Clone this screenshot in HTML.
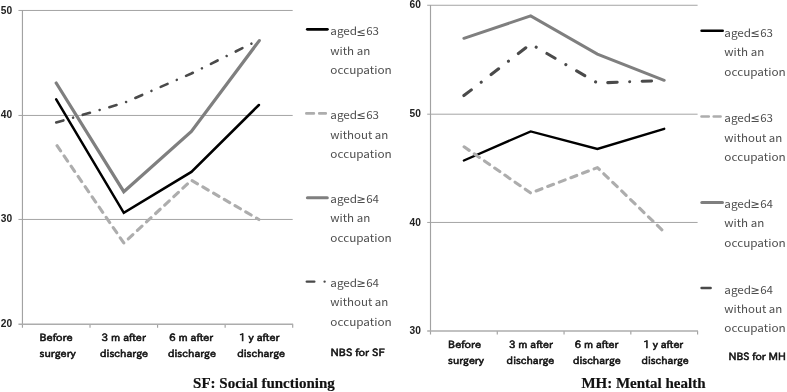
<!DOCTYPE html>
<html lang="en">
<head>
<meta charset="utf-8">
<title>SF and MH charts</title>
<style>
html,body{margin:0;padding:0;background:#fff;}
body{width:787px;height:392px;overflow:hidden;position:relative;}
svg{position:absolute;left:0;top:0;display:block;filter:grayscale(1);}
.ax{font-family:"IPAPGothic","Noto Sans CJK JP","Liberation Sans",sans-serif;font-weight:400;font-size:10px;fill:#141414;stroke:#141414;stroke-width:0.58px;}
.num{font-family:"Liberation Sans",sans-serif;font-weight:700;font-size:10.2px;fill:#222;}
.lg{font-family:"Noto Sans CJK JP","Liberation Sans",sans-serif;font-weight:400;font-size:10.8px;fill:#4d4d4d;}
.sym{font-family:"DejaVu Sans",sans-serif;font-weight:400;font-size:11.3px;}
.ttl{font-family:"Liberation Serif",serif;font-weight:700;font-size:15px;fill:#111;stroke:#111;stroke-width:0.2px;}
.grid{stroke:#a4a4a4;stroke-width:1;fill:none;}
.axis{stroke:#a2a2a2;stroke-width:1.15;fill:none;}
.xaxis{stroke:#acacac;stroke-width:1.4;fill:none;}
.s1{stroke:#000;stroke-width:2.5;fill:none;stroke-linejoin:miter;stroke-linecap:round;}
.s2{stroke:#adadad;stroke-width:3.1;fill:none;stroke-dasharray:6.25 6.16;stroke-dashoffset:-1.5;stroke-linejoin:round;stroke-linecap:round;}
.s3{stroke:#7f7f7f;stroke-width:3.2;fill:none;stroke-linejoin:miter;stroke-linecap:round;}
.s4{stroke:#4a4a4a;stroke-width:2.6;fill:none;stroke-dasharray:7.5 10.07 0.01 10.07;stroke-dashoffset:0;stroke-linejoin:round;stroke-linecap:round;}
.r2{stroke-dashoffset:-0.2;}
.r1{stroke:#000;stroke-width:2.4;fill:none;stroke-linejoin:miter;stroke-linecap:round;}
.r3{stroke:#7f7f7f;stroke-width:3.0;fill:none;stroke-linejoin:miter;stroke-linecap:round;}
.r4{stroke:#4a4a4a;stroke-width:3.1;fill:none;stroke-dasharray:9.4 12.5 0.01 12.5;stroke-linejoin:round;stroke-linecap:round;}
.k1{stroke:#000;stroke-width:2.7;fill:none;stroke-linecap:round;}
.k3{stroke:#7f7f7f;stroke-width:3.1;fill:none;stroke-linecap:round;}
.l2{stroke:#adadad;stroke-width:2.7;fill:none;stroke-linecap:round;}
.l4{stroke:#4a4a4a;stroke-width:2.4;fill:none;stroke-linecap:round;}
</style>
</head>
<body>
<svg width="787" height="392" viewBox="0 0 787 392">
<!-- LEFT CHART: SF -->
<g>
  <path class="grid" d="M18.45 10.46H292.70 M18.45 115.45H292.70 M18.45 219.44H292.70"/>
  <path class="axis" d="M22.45 10.00V324.25 M22.45 324.25v3.6 M90.01 324.25v3.6 M157.57 324.25v3.6 M225.14 324.25v3.6 M292.70 324.25v3.6"/>
  <path class="xaxis" d="M18.45 324.25H293.10"/>
  <text class="num" x="0.8" y="13.7">50</text>
  <text class="num" x="0.8" y="117.7">40</text>
  <text class="num" x="0.8" y="222.4">30</text>
  <text class="num" x="0.8" y="326.7">20</text>
  <path class="s1" d="M56.2 99.4L123.8 212.9L191.4 171.9L258.9 105.0"/>
  <path class="s2" d="M56.2 144.5L123.8 243.0L191.4 180.3L258.9 219.5"/>
  <path class="s3" d="M56.2 83.0L123.8 191.7L191.4 131.5L259.3 40.6"/>
  <path class="s4" d="M56.2 122.5L123.8 103.0L191.4 73.5L258.9 40.0"/>
  <g class="ax">
    <text x="39.5" y="340.7" textLength="33.1" lengthAdjust="spacingAndGlyphs">Before</text>
    <text x="39.5" y="356.7" textLength="36.3" lengthAdjust="spacingAndGlyphs">surgery</text>
    <text x="101.6" y="340.7" textLength="44.2" lengthAdjust="spacingAndGlyphs">3 m after</text>
    <text x="100.0" y="356.7" textLength="48.1" lengthAdjust="spacingAndGlyphs">discharge</text>
    <text x="169.1" y="340.7" textLength="44.1" lengthAdjust="spacingAndGlyphs">6 m after</text>
    <text x="167.9" y="356.7" textLength="48.1" lengthAdjust="spacingAndGlyphs">discharge</text>
    <text x="239.0" y="340.7" textLength="40.4" lengthAdjust="spacingAndGlyphs">1 y after</text>
    <text x="237.2" y="356.7" textLength="47.9" lengthAdjust="spacingAndGlyphs">discharge</text>
  </g>
  <text class="ax" x="330.5" y="356.3" textLength="54.1" lengthAdjust="spacingAndGlyphs">NBS for SF</text>
  <path class="k1" d="M307.25 29.30H327.45"/>
  <text class="lg" y="35.40"><tspan x="330.3" textLength="26.8" lengthAdjust="spacingAndGlyphs">aged</tspan><tspan class="sym" x="356.5" dy="0.15">≤</tspan><tspan x="366.2" dy="-0.15" textLength="12.8" lengthAdjust="spacingAndGlyphs">63</tspan></text>
  <text class="lg" x="330.3" y="54.75" textLength="40.0" lengthAdjust="spacingAndGlyphs">with an</text>
  <text class="lg" x="330.3" y="74.10" textLength="61.5" lengthAdjust="spacingAndGlyphs">occupation</text>
  <path class="l2" d="M306.35 113.40H313.85 M319.25 113.40H325.75"/>
  <text class="lg" y="119.25"><tspan x="330.3" textLength="26.8" lengthAdjust="spacingAndGlyphs">aged</tspan><tspan class="sym" x="356.5" dy="0.15">≤</tspan><tspan x="366.2" dy="-0.15" textLength="12.8" lengthAdjust="spacingAndGlyphs">63</tspan></text>
  <text class="lg" x="330.3" y="138.60" textLength="58.0" lengthAdjust="spacingAndGlyphs">without an</text>
  <text class="lg" x="330.3" y="157.95" textLength="61.5" lengthAdjust="spacingAndGlyphs">occupation</text>
  <path class="k3" d="M307.45 197.75H327.25"/>
  <text class="lg" y="203.10"><tspan x="330.3" textLength="26.8" lengthAdjust="spacingAndGlyphs">aged</tspan><tspan class="sym" x="356.5" dy="0.15">≥</tspan><tspan x="366.2" dy="-0.15" textLength="12.8" lengthAdjust="spacingAndGlyphs">64</tspan></text>
  <text class="lg" x="330.3" y="222.45" textLength="40.0" lengthAdjust="spacingAndGlyphs">with an</text>
  <text class="lg" x="330.3" y="241.80" textLength="61.5" lengthAdjust="spacingAndGlyphs">occupation</text>
  <path class="l4" d="M306.75 281.60H314.35 M324.60 281.60h0.01"/>
  <text class="lg" y="286.95"><tspan x="330.3" textLength="26.8" lengthAdjust="spacingAndGlyphs">aged</tspan><tspan class="sym" x="356.5" dy="0.15">≥</tspan><tspan x="366.2" dy="-0.15" textLength="12.8" lengthAdjust="spacingAndGlyphs">64</tspan></text>
  <text class="lg" x="330.3" y="306.30" textLength="58.0" lengthAdjust="spacingAndGlyphs">without an</text>
  <text class="lg" x="330.3" y="325.65" textLength="61.5" lengthAdjust="spacingAndGlyphs">occupation</text>
  <text class="ttl" x="193.1" y="387.5">SF: Social functioning</text>
</g>
<!-- RIGHT CHART: MH -->
<g>
  <path class="grid" d="M427.20 5.25H697.60 M427.20 114.20H697.60 M427.20 222.45H697.60"/>
  <path class="axis" d="M430.50 5.00V331.00 M430.50 331.00v3.6 M497.27 331.00v3.6 M564.05 331.00v3.6 M630.83 331.00v3.6 M697.60 331.00v3.6"/>
  <path class="xaxis" d="M427.20 331.00H698.00"/>
  <text class="num" x="409.6" y="8.15">60</text>
  <text class="num" x="409.6" y="117.1">50</text>
  <text class="num" x="409.6" y="225.7">40</text>
  <text class="num" x="409.6" y="333.7">30</text>
  <path class="r1" d="M463.9 160.5L530.7 131.4L597.4 149.0L664.2 128.8"/>
  <path class="s2 r2" d="M463.9 146.7L530.7 193.0L597.4 167.6L664.2 232.0"/>
  <path class="r3" d="M463.9 38.3L530.7 15.9L597.4 54.1L664.2 80.3"/>
  <path class="r4" d="M463.9 95.6L530.7 44.0L597.4 83.0L663.2 80.5"/>
  <g class="ax">
    <text x="448.1" y="347.6" textLength="33.0" lengthAdjust="spacingAndGlyphs">Before</text>
    <text x="448.1" y="363.6" textLength="35.8" lengthAdjust="spacingAndGlyphs">surgery</text>
    <text x="508.9" y="347.6" textLength="44.0" lengthAdjust="spacingAndGlyphs">3 m after</text>
    <text x="506.6" y="363.6" textLength="47.7" lengthAdjust="spacingAndGlyphs">discharge</text>
    <text x="574.6" y="347.6" textLength="43.8" lengthAdjust="spacingAndGlyphs">6 m after</text>
    <text x="572.9" y="363.6" textLength="47.8" lengthAdjust="spacingAndGlyphs">discharge</text>
    <text x="643.2" y="347.6" textLength="40.1" lengthAdjust="spacingAndGlyphs">1 y after</text>
    <text x="641.4" y="363.6" textLength="47.4" lengthAdjust="spacingAndGlyphs">discharge</text>
  </g>
  <text class="ax" x="728.5" y="359.7" textLength="57.3" lengthAdjust="spacingAndGlyphs">NBS for MH</text>
  <path class="k1" d="M701.65 30.75H722.65"/>
  <text class="lg" y="36.70"><tspan x="724.3" textLength="26.8" lengthAdjust="spacingAndGlyphs">aged</tspan><tspan class="sym" x="750.5" dy="0.15">≤</tspan><tspan x="760.2" dy="-0.15" textLength="12.8" lengthAdjust="spacingAndGlyphs">63</tspan></text>
  <text class="lg" x="724.3" y="56.10" textLength="40.0" lengthAdjust="spacingAndGlyphs">with an</text>
  <text class="lg" x="724.3" y="75.50" textLength="61.5" lengthAdjust="spacingAndGlyphs">occupation</text>
  <path class="l2" d="M701.55 116.50H708.75 M713.75 116.50H720.55"/>
  <text class="lg" y="122.30"><tspan x="724.3" textLength="26.8" lengthAdjust="spacingAndGlyphs">aged</tspan><tspan class="sym" x="750.5" dy="0.15">≤</tspan><tspan x="760.2" dy="-0.15" textLength="12.8" lengthAdjust="spacingAndGlyphs">63</tspan></text>
  <text class="lg" x="724.3" y="141.70" textLength="58.0" lengthAdjust="spacingAndGlyphs">without an</text>
  <text class="lg" x="724.3" y="161.10" textLength="61.5" lengthAdjust="spacingAndGlyphs">occupation</text>
  <path class="k3" d="M701.85 202.50H722.45"/>
  <text class="lg" y="207.90"><tspan x="724.3" textLength="26.8" lengthAdjust="spacingAndGlyphs">aged</tspan><tspan class="sym" x="750.5" dy="0.15">≥</tspan><tspan x="760.2" dy="-0.15" textLength="12.8" lengthAdjust="spacingAndGlyphs">64</tspan></text>
  <text class="lg" x="724.3" y="227.30" textLength="40.0" lengthAdjust="spacingAndGlyphs">with an</text>
  <text class="lg" x="724.3" y="246.70" textLength="61.5" lengthAdjust="spacingAndGlyphs">occupation</text>
  <path class="l4" d="M701.55 288.00H710.65"/>
  <text class="lg" y="293.50"><tspan x="724.3" textLength="26.8" lengthAdjust="spacingAndGlyphs">aged</tspan><tspan class="sym" x="750.5" dy="0.15">≥</tspan><tspan x="760.2" dy="-0.15" textLength="12.8" lengthAdjust="spacingAndGlyphs">64</tspan></text>
  <text class="lg" x="724.3" y="312.90" textLength="58.0" lengthAdjust="spacingAndGlyphs">without an</text>
  <text class="lg" x="724.3" y="332.30" textLength="61.5" lengthAdjust="spacingAndGlyphs">occupation</text>
  <text class="ttl" x="581.4" y="387.8">MH: Mental health</text>
</g>
</svg>
</body>
</html>
